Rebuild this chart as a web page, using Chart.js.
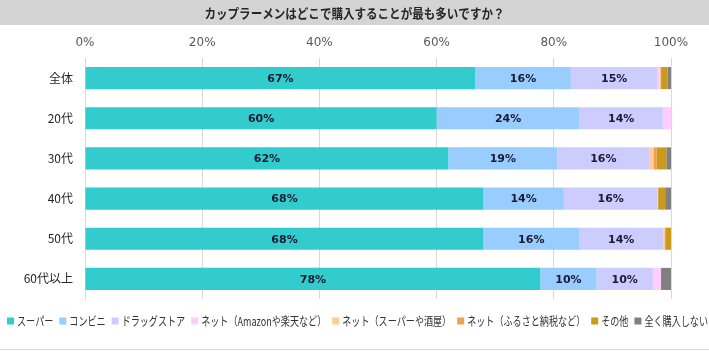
<!DOCTYPE html>
<html><head><meta charset="utf-8">
<script src="https://cdn.jsdelivr.net/npm/chart.js@4/dist/chart.umd.min.js"></script>
<style>html,body{margin:0;padding:0;background:#fff}#wrap{width:709px;height:357px;position:relative}</style>
</head><body><div id="wrap"><canvas id="c" width="709" height="357"></canvas></div>
<script>
const chartTitle = 'カップラーメンはどこで購入することが最も多いですか？';
const categories = ['全体', '20代', '30代', '40代', '50代', '60代以上'];
const seriesNames = ['スーパー', 'コンビニ', 'ドラッグストア', 'ネット（Amazonや楽天など）', 'ネット（スーパーや酒屋）', 'ネット（ふるさと納税など）', 'その他', '全く購入しない'];
const superValues    = [66.6, 60.0, 62.0, 68.0, 68.0, 77.7];
const konbiniValues  = [16.3, 24.4, 18.6, 13.7, 16.3, 9.6];
const drugValues     = [14.8, 14.2, 15.7, 16.0, 14.4, 9.6];
const netAmazon      = [0.3, 1.4, 0.0, 0.1, 0.0, 1.4];
const netSuper       = [0.2, 0.0, 0.7, 0.0, 0.3, 0.0];
const netFurusato    = [0.1, 0.0, 0.5, 0.0, 0.0, 0.0];
const otherValues    = [1.1, 0.0, 1.7, 1.2, 1.0, 0.0];
const noneValues     = [0.6, 0.0, 0.8, 1.0, 0.0, 1.7];
const tickValues = [0, 20, 40, 60, 80, 100];
const seriesColors = ['#33CCCC', '#99CCFF', '#CCCCFF', '#FFCCFF', '#FFCC99', '#F0A050', '#CC9A1A', '#808080'];
const labeledSeries = 3;

const allValues = [superValues, konbiniValues, drugValues, netAmazon, netSuper, netFurusato, otherValues, noneValues];

const TITLE_H = 25;
const LEFT_W = 85;

const framePlugin = {
  id: 'frame',
  beforeDraw(chart) {
    const ctx = chart.ctx;
    ctx.save();
    ctx.fillStyle = '#fff';
    ctx.fillRect(0, 0, chart.width, chart.height);
    ctx.fillStyle = '#D4D4D4';
    ctx.fillRect(0, 0, chart.width, TITLE_H);
    ctx.font = 'bold 13px "Noto Sans CJK JP"';
    ctx.fillStyle = '#262626';
    ctx.textBaseline = 'middle';
    const w = ctx.measureText(chartTitle).width;
    const sx = 300 / w;
    ctx.translate(chart.width / 2, TITLE_H / 2 + 1);
    ctx.scale(sx, 1);
    ctx.textAlign = 'center';
    ctx.fillText(chartTitle, 0, 0);
    ctx.restore();
    ctx.save();
    ctx.strokeStyle = '#D9D9D9';
    ctx.lineWidth = 1;
    ctx.beginPath();
    ctx.moveTo(0, 349.5); ctx.lineTo(chart.width, 349.5);
    ctx.stroke();
    ctx.restore();
  },
  afterDraw(chart) {
    const ctx = chart.ctx;
    // data labels
    ctx.save();
    ctx.font = 'bold 11px "DejaVu Sans"';
    ctx.fillStyle = '#1a1a33';
    ctx.textAlign = 'center';
    ctx.textBaseline = 'middle';
    for (let d = 0; d < labeledSeries; d++) {
      const meta = chart.getDatasetMeta(d);
      meta.data.forEach((bar, i) => {
        const v = chart.data.datasets[d].data[i];
        const cx = (bar.x + bar.base) / 2;
        ctx.fillText(Math.round(v) + '%', cx, bar.y + 1);
      });
    }
    ctx.restore();
    // legend
    ctx.save();
    ctx.font = '12px "Noto Sans CJK JP"';
    ctx.textBaseline = 'middle';
    const box = 7, gapBox = 3, gapItem = 6, startX = 7, endX = 708;
    const widths = seriesNames.map(n => ctx.measureText(n).width);
    const fixed = seriesNames.length * (box + gapBox) + (seriesNames.length - 1) * gapItem;
    const sx = Math.min(1, (endX - startX - fixed) / widths.reduce((a, b) => a + b, 0));
    let x = startX;
    const y = 321;
    seriesNames.forEach((n, i) => {
      ctx.fillStyle = seriesColors[i];
      ctx.fillRect(x, y - box / 2, box, box);
      x += box + gapBox;
      ctx.save();
      ctx.translate(x, y);
      ctx.scale(sx, 1);
      ctx.fillStyle = '#333333';
      ctx.fillText(n, 0, 0);
      ctx.restore();
      x += widths[i] * sx + gapItem;
    });
    ctx.restore();
  }
};

const datasets = seriesNames.map((name, i) => ({
  label: name,
  data: allValues[i],
  backgroundColor: seriesColors[i],
  borderWidth: 0,
  categoryPercentage: 1.0,
  barPercentage: 0.55
}));

new Chart(document.getElementById('c'), {
  type: 'bar',
  data: { labels: categories, datasets },
  options: {
    indexAxis: 'y',
    responsive: false,
    animation: false,
    devicePixelRatio: 1,
    layout: { padding: { top: TITLE_H, left: 0, right: 38, bottom: 58 } },
    plugins: { legend: { display: false }, title: { display: false }, tooltip: { enabled: false } },
    scales: {
      x: {
        position: 'top',
        stacked: true,
        min: 0, max: 100,
        afterBuildTicks(scale) { scale.ticks = tickValues.map(v => ({ value: v })); },
        afterFit(scale) { scale.height = 58 - TITLE_H; },
        ticks: { callback: v => v + '%', font: { size: 12, family: 'DejaVu Sans' }, color: '#595959', padding: 8, maxRotation: 0 },
        grid: { color: '#D9D9D9', drawTicks: false },
        border: { display: false }
      },
      y: {
        stacked: true,
        afterFit(scale) { scale.width = LEFT_W; },
        ticks: { font: { size: 12, family: 'Noto Sans CJK JP' }, color: '#262626', padding: 12 },
        grid: { display: false, drawTicks: false },
        border: { display: true, color: '#D9D9D9' }
      }
    }
  },
  plugins: [framePlugin]
});
</script></body></html>
